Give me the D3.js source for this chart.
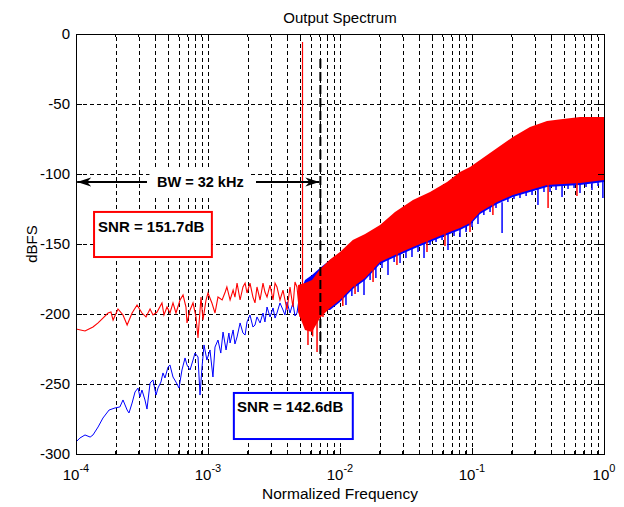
<!DOCTYPE html>
<html>
<head>
<meta charset="utf-8">
<script src="https://cdn.jsdelivr.net/npm/d3@7"></script>
<style>
  body { margin: 0; background: #fff; }
  svg { font-family: "Liberation Sans", Arial, Helvetica, sans-serif; }
  .grid line { stroke: #000; stroke-dasharray: 4,3; shape-rendering: crispEdges; }
  .grid path { display: none; }
</style>
</head>
<body>
<div id="chart"></div>
<script>
// ---- data ----
var xMajor = [1e-4, 1e-3, 1e-2, 1e-1, 1];
var xExponents = ["-4", "-3", "-2", "-1", "0"];
var yTicks = [0, -50, -100, -150, -200, -250, -300];

// low-frequency part of the red spectrum [freq, dBFS]
var redTrace = [[1.00e-4,-210.7],[1.17e-4,-212.1],[1.345e-4,-209.3],[1.47e-4,-206.4],[1.60e-4,-202.9],[1.75e-4,-199.3],[1.84e-4,-198.6],[1.91e-4,-204.3],[2.08e-4,-196.4],[2.27e-4,-200.7],[2.44e-4,-207.9],[2.66e-4,-199.3],[2.90e-4,-193.6],[3.16e-4,-199.3],[3.39e-4,-202.1],[3.64e-4,-196.4],[3.83e-4,-200.7],[4.11e-4,-198.6],[4.48e-4,-192.1],[4.64e-4,-200.7],[4.89e-4,-195],[5.15e-4,-199.3],[5.43e-4,-192.1],[5.72e-4,-199.3],[6.14e-4,-190],[6.47e-4,-186.4],[6.81e-4,-195],[6.93e-4,-206.4],[7.31e-4,-197.1],[7.70e-4,-192.1],[8.11e-4,-202.1],[8.40e-4,-217.1],[8.85e-4,-187.9],[9.16e-4,-204.3],[9.66e-4,-190],[1.00e-3,-185],[1.07e-3,-192.1],[1.13e-3,-199.3],[1.19e-3,-187.9],[1.28e-3,-190],[1.35e-3,-184.3],[1.39e-3,-180.7],[1.47e-3,-190],[1.55e-3,-182.9],[1.60e-3,-187.9],[1.66e-3,-177.9],[1.75e-3,-190],[1.84e-3,-180.7],[1.91e-3,-177.9],[1.975e-3,-185],[2.08e-3,-177.9],[2.19e-3,-187.9],[2.27e-3,-192.1],[2.35e-3,-180.7],[2.48e-3,-190],[2.61e-3,-177.9],[2.70e-3,-184.3],[2.80e-3,-187.9],[2.95e-3,-179.3],[3.11e-3,-190],[3.22e-3,-177.9],[3.33e-3,-180.7],[3.51e-3,-190],[3.70e-3,-182.9],[3.83e-3,-190],[3.97e-3,-197.1],[4.18e-3,-180.7],[4.40e-3,-195],[4.56e-3,-177.1],[4.72e-3,-180.7],[4.98e-3,-202.1]];

// dense red part: [freq, upper dBFS, lower dBFS]
var redBand = [[4.81e-3,-179.3,-198.6],[5.43e-3,-177.9,-211.4],[6.14e-3,-175.7,-212.9],[7.05e-3,-168,-202.9],[8.40e-3,-161,-195.7],[1.0e-2,-155.7,-190],[1.25e-2,-147.1,-180.7],[1.55e-2,-142.9,-174.3],[2.01e-2,-136.4,-162.9],[2.61e-2,-127.1,-157.9],[3.57e-2,-118.6,-152.1],[4.81e-2,-112.9,-147.1],[6.47e-2,-105.7,-142.1],[8.11e-2,-98.6,-138.6],[9.66e-2,-95,-135],[1.15e-1,-90,-127.1],[1.55e-1,-81.4,-120],[2.04e-1,-73.6,-115],[2.75e-1,-66.4,-111.4],[3.70e-1,-62.1,-107.9],[4.89e-1,-60.7,-107.1],[6.58e-1,-59.3,-106.4],[1,-59.3,-104.3]];
var redSpikes = [[5.72e-3,-222.1],[6.2e-3,-216],[6.70e-3,-227.1],[7.43e-3,-202.1],[1.05e-2,-194.3],[1.30e-2,-185.7],[1.78e-2,-177.1],[2.70e-2,-165],[4.56e-2,-155.7],[6.24e-2,-151.4],[9.66e-2,-141.4],[1.44e-1,-129.3],[3.77e-1,-124.3],[6.24e-1,-115.7]];

// low-frequency part of the blue spectrum
var blueTrace = [[1.00e-4,-291.4],[1.07e-4,-288.6],[1.17e-4,-286.4],[1.28e-4,-287.9],[1.345e-4,-286.4],[1.47e-4,-280.7],[1.60e-4,-274.3],[1.78e-4,-268.6],[1.975e-4,-267.1],[2.15e-4,-266.4],[2.27e-4,-261.4],[2.44e-4,-268.6],[2.52e-4,-270.7],[2.66e-4,-263.6],[2.80e-4,-255.7],[2.95e-4,-252.9],[3.05e-4,-259.3],[3.16e-4,-254.3],[3.33e-4,-261.4],[3.45e-4,-267.9],[3.64e-4,-249.3],[3.83e-4,-247.1],[4.04e-4,-257.9],[4.18e-4,-252.9],[4.40e-4,-248.6],[4.56e-4,-242.1],[4.72e-4,-245.7],[4.98e-4,-237.9],[5.15e-4,-236.4],[5.43e-4,-245],[5.72e-4,-248.6],[6.03e-4,-252.9],[6.35e-4,-240],[6.70e-4,-231.4],[6.93e-4,-236.4],[7.31e-4,-240],[7.70e-4,-232.9],[7.97e-4,-227.9],[8.40e-4,-230.7],[8.70e-4,-257.9],[9.01e-4,-237.9],[9.33e-4,-222.1],[9.81e-4,-232.9],[1.035e-3,-225.7],[1.09e-3,-245],[1.13e-3,-223.6],[1.19e-3,-218.6],[1.25e-3,-227.9],[1.30e-3,-212.9],[1.37e-3,-225.7],[1.44e-3,-213.6],[1.47e-3,-220.7],[1.55e-3,-211.4],[1.60e-3,-221.4],[1.66e-3,-216.4],[1.75e-3,-206.4],[1.84e-3,-213.6],[1.91e-3,-215],[1.975e-3,-205.7],[2.08e-3,-200.7],[2.19e-3,-209.3],[2.27e-3,-207.9],[2.35e-3,-202.1],[2.48e-3,-206.4],[2.61e-3,-199.3],[2.70e-3,-205.7],[2.80e-3,-195],[2.95e-3,-202.1],[3.11e-3,-195.7],[3.22e-3,-202.9],[3.33e-3,-199.3],[3.51e-3,-192.1],[3.70e-3,-197.1],[3.83e-3,-200.7],[3.97e-3,-191.4],[4.18e-3,-199.3],[4.40e-3,-192.1],[4.56e-3,-201.4],[4.72e-3,-199.3],[4.98e-3,-185]];

var blueBand = [[4.98e-3,-185,-200.7],[5.43e-3,-175.7,-198.6],[6.14e-3,-172.1,-195],[7.05e-3,-167.1,-197.1],[8.40e-3,-161.4,-197.1],[1.0e-2,-156.4,-191.4],[1.25e-2,-148.6,-182.1],[1.55e-2,-144.3,-175.7],[2.01e-2,-137.9,-164.3],[2.61e-2,-128.6,-159.3],[3.57e-2,-120,-153.6],[4.81e-2,-114.3,-148.6],[6.47e-2,-107.1,-143.6],[8.11e-2,-100,-140],[9.66e-2,-96.4,-136.4],[1.15e-1,-91.4,-128.6],[1.55e-1,-82.9,-121.4],[2.04e-1,-75,-116.4],[2.75e-1,-67.9,-112.9],[3.70e-1,-63.6,-109.3],[4.89e-1,-62.1,-108.6],[6.58e-1,-60.7,-107.9],[1,-60.7,-105.7]];
var blueSpikes = [[9.66e-3,-190],[1.11e-2,-193.6],[1.23e-2,-187.1],[1.37e-2,-184.3],[1.52e-2,-186.4],[1.69e-2,-175.7],[1.87e-2,-174.3],[2.08e-2,-167.1],[2.31e-2,-172.1],[2.57e-2,-162.9],[2.85e-2,-163.6],[3.16e-2,-160],[3.51e-2,-159.3],[3.90e-2,-155.7],[4.33e-2,-160],[4.81e-2,-150.7],[5.34e-2,-148.6],[5.93e-2,-147.1],[6.58e-2,-154.3],[7.31e-2,-144.3],[8.11e-2,-145],[9.01e-2,-141.4],[1.0e-1,-137.9],[1.11e-1,-135.7],[1.23e-1,-129.3],[1.37e-1,-127.1],[1.52e-1,-124.3],[1.69e-1,-142.1],[1.87e-1,-120],[2.08e-1,-117.9],[2.31e-1,-117.1],[2.57e-1,-115.7],[2.85e-1,-115],[3.16e-1,-122.1],[3.51e-1,-112.9],[3.90e-1,-112.9],[4.33e-1,-111.4],[4.81e-1,-116.4],[5.34e-1,-110.7],[5.93e-1,-110],[6.58e-1,-113.6],[7.31e-1,-109.3],[8.11e-1,-111.4],[9.01e-1,-108.6],[9.81e-1,-117.1]];

// test tone and band edge
var tone = {f: 5.2e-3, top: -5.7, bottom: -190};
var bwEdge = {f: 7.1e-3, top: -17.9, bottom: -232.9};

// ---- drawing ----
var W = 624, H = 507;
var margin = {top: 34, right: 20, bottom: 53, left: 76};
var width = W - margin.left - margin.right,
    height = H - margin.top - margin.bottom;

var svg = d3.select("#chart").append("svg").attr("width", W).attr("height", H);
var g = svg.append("g").attr("transform", "translate(" + margin.left + "," + margin.top + ")");

var x = d3.scaleLog().domain([1e-4, 1]).range([0, width]);
var y = d3.scaleLinear().domain([-300, 0]).range([height, 0]);

var allX = [];
for (var e = -4; e < 0; e++) for (var k = 1; k < 10; k++) allX.push(k * Math.pow(10, e));
allX.push(1);
var minorX = allX.filter(function(v) { return xMajor.indexOf(v) < 0; });

// grid
g.append("g").attr("class", "grid")
    .attr("transform", "translate(0," + height + ")")
    .call(d3.axisBottom(x).tickValues(allX).tickSize(-height).tickFormat(""));
g.append("g").attr("class", "grid")
    .call(d3.axisLeft(y).tickValues(yTicks).tickSize(-width).tickFormat(""));

g.append("clipPath").attr("id", "plot-clip")
    .append("rect").attr("width", width).attr("height", height);
var plot = g.append("g").attr("clip-path", "url(#plot-clip)");

var line = d3.line().x(function(d) { return x(d[0]); }).y(function(d) { return y(d[1]); });
var band = d3.area().x(function(d) { return x(d[0]); })
    .y0(function(d) { return y(d[2]); }).y1(function(d) { return y(d[1]); });

function spikes(cls, data, col, up) {
    plot.selectAll("line." + cls).data(data).enter().append("line")
        .attr("class", cls)
        .attr("x1", function(d) { return x(d[0]); }).attr("x2", function(d) { return x(d[0]); })
        .attr("y1", function(d) { return y(d[1]); }).attr("y2", function(d) { return y(d[1] + up); })
        .style("stroke", col).style("stroke-width", 1.5);
}

// blue
plot.append("path").datum(blueTrace).attr("d", line)
    .style("fill", "none").style("stroke", "#0000ff").style("stroke-width", 1);
plot.append("path").datum(blueBand).attr("d", band).style("fill", "#0000ff");
spikes("bspike", blueSpikes, "#0000ff", 22);

// red
plot.append("path").datum(redTrace).attr("d", line)
    .style("fill", "none").style("stroke", "#ff0000").style("stroke-width", 1.1);
plot.append("path").datum(redBand).attr("d", band).style("fill", "#ff0000");
spikes("rspike", redSpikes, "#ff0000", 22);
plot.append("line")
    .attr("x1", x(tone.f)).attr("x2", x(tone.f))
    .attr("y1", y(tone.top)).attr("y2", y(tone.bottom))
    .style("stroke", "#ff0000").style("stroke-width", 1.2);

// band edge marker
g.append("line")
    .attr("x1", x(bwEdge.f)).attr("x2", x(bwEdge.f))
    .attr("y1", y(bwEdge.top)).attr("y2", y(bwEdge.bottom))
    .style("stroke", "#000").style("stroke-width", 2).style("stroke-dasharray", "9,4");

// BW arrows
var defs = svg.append("defs");
defs.append("marker").attr("id", "ahead")
    .attr("markerUnits", "userSpaceOnUse")
    .attr("viewBox", "0 -5 15 10").attr("refX", 14).attr("refY", 0)
    .attr("markerWidth", 15).attr("markerHeight", 10).attr("orient", "auto")
    .append("path").attr("d", "M0,-4.5L14,0L0,4.5L4,0Z").style("fill", "#000");

var arrowY = y(-105.7);
g.append("line").attr("x1", x(3.45e-4)).attr("x2", x(1.02e-4))
    .attr("y1", arrowY).attr("y2", arrowY)
    .style("stroke", "#000").style("stroke-width", 2).attr("marker-end", "url(#ahead)");
g.append("line").attr("x1", x(2.31e-3)).attr("x2", x(bwEdge.f) - 1)
    .attr("y1", arrowY).attr("y2", arrowY)
    .style("stroke", "#000").style("stroke-width", 2).attr("marker-end", "url(#ahead)");

g.append("rect").attr("x", x(3.6e-4)).attr("y", y(-95.7))
    .attr("width", x(2.05e-3) - x(3.6e-4)).attr("height", y(-115.7) - y(-95.7))
    .style("fill", "#fff");
g.append("text").attr("x", x(4.11e-4)).attr("y", y(-109.3))
    .style("font-size", "14.5px").style("font-weight", "bold").text("BW = 32 kHz");

// SNR boxes
function snrBox(f0, f1, d0, d1, col, tf, td, label) {
    g.append("rect").attr("x", x(f0)).attr("y", y(d0))
        .attr("width", x(f1) - x(f0)).attr("height", y(d1) - y(d0))
        .style("fill", "#fff").style("stroke", col).style("stroke-width", 2);
    g.append("text").attr("x", x(tf)).attr("y", y(td))
        .style("font-size", "15px").style("font-weight", "bold").text(label);
}
snrBox(1.37e-4, 1.07e-3, -127.1, -159.3, "#ff0000", 1.47e-4, -141.6, "SNR = 151.7dB");
snrBox(1.57e-3, 1.25e-2, -256.4, -289.3, "#0000ff", 1.66e-3, -270.2, "SNR = 142.6dB");

// ticks (inside) on all four sides
function tickMarks(sel, vals, len, horiz) {
    vals.forEach(function(v) {
        if (horiz) {
            sel.append("line").attr("x1", x(v)).attr("x2", x(v)).attr("y1", height).attr("y2", height - len);
            sel.append("line").attr("x1", x(v)).attr("x2", x(v)).attr("y1", 0).attr("y2", len);
        } else {
            sel.append("line").attr("x1", 0).attr("x2", len).attr("y1", y(v)).attr("y2", y(v));
            sel.append("line").attr("x1", width).attr("x2", width - len).attr("y1", y(v)).attr("y2", y(v));
        }
    });
}
var tk = g.append("g").style("stroke", "#000").style("stroke-width", 1).style("shape-rendering", "crispEdges");
tickMarks(tk, xMajor, 6, true);
tickMarks(tk, minorX, 3, true);
tickMarks(tk, yTicks, 6, false);

// box
g.append("rect").attr("x", 0).attr("y", 0).attr("width", width).attr("height", height)
    .style("fill", "none").style("stroke", "#000").style("stroke-width", 1)
    .style("shape-rendering", "crispEdges");

// tick labels
g.selectAll("text.ylab").data(yTicks).enter().append("text")
    .attr("class", "ylab")
    .attr("x", -6).attr("y", function(d) { return y(d); }).attr("dy", "0.36em")
    .attr("text-anchor", "end").style("font-size", "15px")
    .text(function(d) { return d; });

var xl = g.selectAll("text.xlab").data(xMajor).enter().append("text")
    .attr("class", "xlab")
    .attr("x", function(d) { return x(d); }).attr("y", height + 26)
    .attr("text-anchor", "middle").style("font-size", "15px");
xl.append("tspan").text("10");
xl.append("tspan").attr("dy", -8).style("font-size", "11px")
    .text(function(d, i) { return xExponents[i]; });

// titles
svg.append("text").attr("x", margin.left + width / 2).attr("y", 23)
    .attr("text-anchor", "middle").style("font-size", "15px").text("Output Spectrum");
svg.append("text").attr("x", margin.left + width / 2).attr("y", 499)
    .attr("text-anchor", "middle").style("font-size", "15.5px").text("Normalized Frequency");
svg.append("text").attr("transform", "translate(37," + (margin.top + height / 2) + ") rotate(-90)")
    .attr("text-anchor", "middle").style("font-size", "15px").text("dBFS");
</script>
</body>
</html>
